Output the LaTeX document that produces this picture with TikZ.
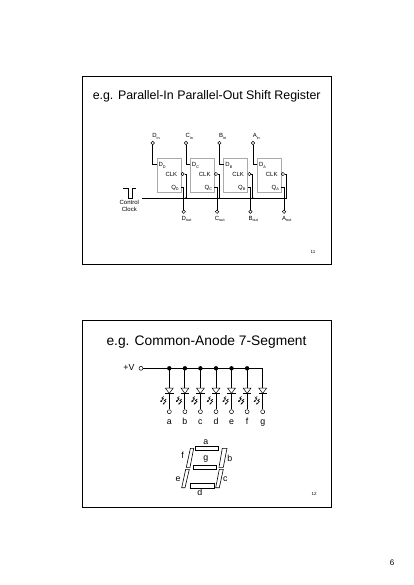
\documentclass[tikz,border=0pt]{standalone}
\usepackage{fontspec}
\setmainfont{Liberation Sans}
\usetikzlibrary{arrows.meta,positioning,calc}
\definecolor{boxgray}{RGB}{170,170,170}
\newcommand{\fsize}[1]{\fontsize{#1}{#1}\selectfont}
\newcommand{\lowsub}[1]{\raisebox{-1.2pt}{\fsize{3.8}#1}}
\begin{document}
\begin{tikzpicture}[
        x=1pt, y=-1pt,
        slide/.style={draw, line width=1pt, minimum width=249pt, minimum height=187pt, inner sep=0pt},
        titletext/.style={font=\fsize{13.8}, inner sep=0pt},
        pagenum/.style={font=\fsize{4.5}, inner sep=0pt},
        smalltext/.style={font=\fsize{6}, inner sep=0pt, text height=4.3pt, text depth=0pt},
        segtext/.style={font=\fsize{8.8}, inner sep=0pt, text height=6.4pt, text depth=1.9pt},
        ffbox/.style={draw=boxgray, line width=0.9pt, minimum width=24pt, minimum height=34.4pt, inner sep=0pt},
        pin/.style={circle, draw, line width=0.5pt, fill=white, minimum size=3.4pt, inner sep=0pt},
        junction/.style={circle, fill, minimum size=1.6pt, inner sep=0pt},
        railjoin/.style={circle, fill, minimum size=4.4pt, inner sep=0pt},
        wire/.style={line width=0.9pt},
        thinwire/.style={line width=0.7pt},
        seghbar/.style={draw, line width=0.9pt, minimum width=23pt, minimum height=4pt, inner sep=0pt},
        segment/.style={draw, line width=0.6pt}
    ]
        \path[use as bounding box] (0,0) rectangle (414,585);

        % slide frames
        \node[slide] (slideA) at (207.2,170.5) {};
        \node[slide] (slideB) at (207.2,413.8) {};
        \node[titletext, font=\fsize{12.4}] (titleA) at (206.7,96.7) {e.g. Parallel-In Parallel-Out Shift Register};
        \node[titletext] (titleB) at (206.5,342) {e.g. Common-Anode 7-Segment};
        \node[pagenum] (numA) at (313,252) {11};
        \node[pagenum] (numB) at (314,494) {12};
        \node[font=\fsize{8}, inner sep=0pt] (numPage) at (392,562.5) {6};

        % clock bus
        \coordinate (busL) at (142,198);
        \coordinate (busR) at (287,198);
        \draw[wire] (busL) -- (busR);

        % clock pulse
        \coordinate (pulseA) at (123.3,188.3);
        \coordinate (pulseB) at (136,188.3);
        \draw[wire] (pulseA) -- (128.3,188.3) -- (128.3,198) -- (132.7,198) -- (132.7,188.3) -- (pulseB);
        \node[smalltext] (ctrlA) at (129.3,202) {Control};
        \node[smalltext] (ctrlB) at (129.3,209.7) {Clock};

        % register stages
        \foreach \n/\x in {D/169, C/202.3, B/235.7, A/269.3} {
            \node[ffbox] (ff\n) at (\x,175.5) {};
            \node[smalltext] (dlab\n) at (\x-6.8,164.7) {D\lowsub{\n}};
            \node[smalltext] (clab\n) at (\x+2.4,174.2) {CLK};
            \node[smalltext] (qlab\n) at (\x+6,187.2) {Q\lowsub{\n}};
            % input
            \node[pin] (in\n) at (\x-16.3,143) {};
            \node[smalltext] (inlab\n) at (\x-13,135.7) {\n\lowsub{in}};
            \coordinate (dp\n) at (\x-12,164.7);
            \draw[wire] (in\n) |- (dp\n);
            % clock
            \node[pin] (ck\n) at (\x+13.6,174) {};
            \coordinate (bj\n) at (\x+17,198);
            \draw[wire] (ck\n) -| (bj\n);
            % output
            \coordinate (qp\n) at (\x+12,187.3);
            \node[pin] (out\n) at (\x+14.7,211.7) {};
            \node[smalltext] (outlab\n) at (\x+17.5,218) {\n\lowsub{out}};
            \draw[wire] (qp\n) -| (out\n);
        }
        \foreach \n in {D,C,B} {
            \node[junction] at (bj\n) {};
        }

        % common anode rail
        \node[segtext] (vlab) at (129,368.3) {+V};
        \node[pin, minimum size=4pt] (vcc) at (141,368.3) {};
        \coordinate (railend) at (262.7,368.3);
        \draw[thinwire] (vcc) -- (railend);

        % LEDs
        \foreach \n/\x in {a/169.3, b/184.9, c/200.4, d/216, e/231.5, f/247.1, g/262.7} {
            \coordinate (top\n) at (\x,368.3);
            \coordinate (tri\n) at (\x,388);
            \coordinate (bar\n) at (\x,393.4);
            \node[pin, minimum size=4pt] (pin\n) at (\x,411.7) {};
            \node[segtext] (lab\n) at (\x,422.6) {\n};
            \draw[wire] (top\n) -- (tri\n);
            \draw[wire] (bar\n) -- (pin\n);
            \draw[line width=0.5pt, fill=white] (\x-4,388) -- (\x+4,388) -- (bar\n) -- cycle;
            \draw[line width=0.8pt] (\x-4.2,393.4) -- (\x+4.2,393.4);
            % light arrows
            \draw[line width=0.6pt, -{Stealth[length=2pt,width=2pt]}] (\x-5.5,396.5) -- (\x-7.5,398) -- (\x-5.8,398.8) -- (\x-9,402);
            \draw[line width=0.6pt, -{Stealth[length=2pt,width=2pt]}] (\x-3,399) -- (\x-5,400.5) -- (\x-3.3,401.3) -- (\x-6.5,404.5);
        }
        \foreach \n in {a,b,c,d,e,f} {
            \node[railjoin] at (top\n) {};
        }

        % 7-segment display
        \node[seghbar] (sega) at (206.8,448.9) {};
        \node[seghbar] (segg) at (205,467.2) {};
        \node[seghbar, minimum width=24pt, minimum height=5pt] (segd) at (202.3,485.8) {};
        \draw[segment] (190.4,448.3) -- (193.7,448.3) -- (190,467.3) -- (186.3,467.3) -- cycle; % f
        \draw[segment] (222.3,448.3) -- (227,448.3) -- (223.3,467.3) -- (219,467.3) -- cycle; % b
        \draw[segment] (185.7,469.3) -- (189.3,469.3) -- (185,487.7) -- (181.7,487.7) -- cycle; % e
        \draw[segment] (219.3,469.3) -- (223.3,469.3) -- (219.3,487.7) -- (215.7,487.7) -- cycle; % c
        \node[segtext] (ta) at (205.7,442.3) {a};
        \node[segtext] (tf) at (182.7,456.7) {f};
        \node[segtext] (tg) at (205.7,458) {g};
        \node[segtext] (tb) at (229.7,459) {b};
        \node[segtext] (te) at (178,479.3) {e};
        \node[segtext] (tc) at (225.3,479.3) {c};
        \node[segtext] (td) at (199.7,493.3) {d};
    \end{tikzpicture}
\end{document}
